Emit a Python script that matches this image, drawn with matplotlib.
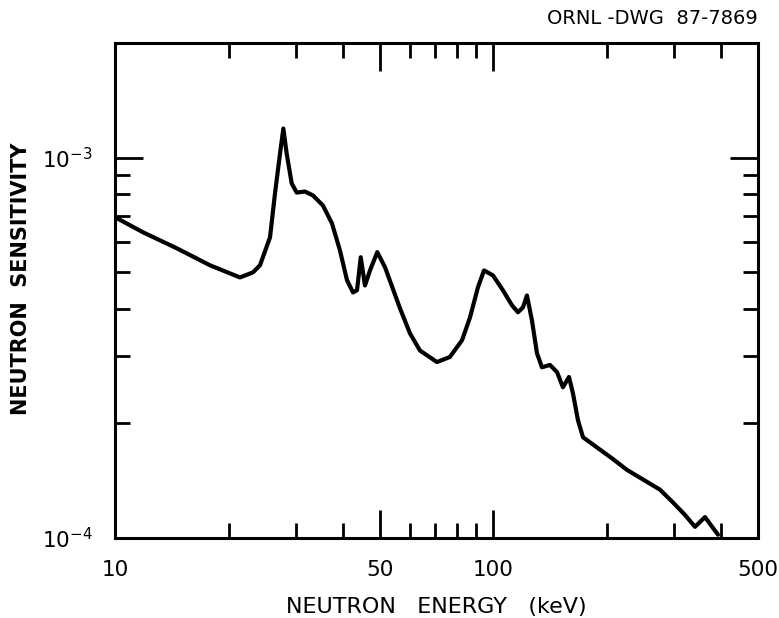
import numpy as np
import matplotlib
matplotlib.use('Agg')
import matplotlib.pyplot as plt
from matplotlib.ticker import NullFormatter

#%% Data (energy in keV, sensitivity)

energy = [10.0, 11.86, 14.58, 17.82, 21.39, 23.15, 24.16, 25.68, 26.47, 27.29,
          27.85, 28.42, 29.30, 30.2, 31.77, 33.35, 35.44, 37.44, 39.30, 41.02,
          42.55, 43.6, 44.6, 45.76, 47.18, 49.32, 51.69, 56.6, 60.17, 63.95,
          70.9, 76.7, 82.6, 86.7, 91.0, 94.4, 99.7, 105.9, 111.9, 116.1,
          119.7, 122.6, 126.4, 130.3, 134.3, 141.0, 147.2, 152.6, 158.3, 162.2,
          167.2, 172.4, 187.7, 205.6, 225.3, 275.4, 298.1, 320.6, 340.8, 362.2,
          392.0]

sensitivity = [6.97e-4, 6.36e-4, 5.77e-4, 5.21e-4, 4.84e-4, 4.99e-4, 5.21e-4, 6.17e-4, 8.05e-4, 1.024e-3,
               1.192e-3, 1.024e-3, 8.55e-4, 8.09e-4, 8.14e-4, 7.95e-4, 7.48e-4, 6.71e-4, 5.70e-4, 4.76e-4,
               4.42e-4, 4.48e-4, 5.47e-4, 4.61e-4, 5.05e-4, 5.64e-4, 5.15e-4, 4.02e-4, 3.45e-4, 3.11e-4,
               2.90e-4, 2.99e-4, 3.31e-4, 3.80e-4, 4.56e-4, 5.05e-4, 4.90e-4, 4.48e-4, 4.09e-4, 3.92e-4,
               4.04e-4, 4.34e-4, 3.73e-4, 3.06e-4, 2.81e-4, 2.85e-4, 2.73e-4, 2.49e-4, 2.65e-4, 2.40e-4,
               2.04e-4, 1.84e-4, 1.73e-4, 1.62e-4, 1.51e-4, 1.34e-4, 1.24e-4, 1.15e-4, 1.07e-4, 1.135e-4,
               1.02e-4]

x_major         = [10, 50, 100, 500]
x_major_labels  = ['10', '50', '100', '500']
x_minor         = [20, 30, 40, 60, 70, 80, 90, 200, 300, 400]

y_major         = [1e-4, 1e-3]
y_major_labels  = [r'$10^{-4}$', r'$10^{-3}$']
y_minor         = [2e-4, 3e-4, 4e-4, 5e-4, 6e-4, 7e-4, 8e-4, 9e-4]

#%% Plot

plt.rcParams['font.family'] = ['DejaVu Sans']
plt.rcParams['mathtext.fontset'] = 'dejavusans'

fig = plt.figure(figsize=(7.79, 6.18), dpi=100)
ax = fig.add_axes([115/779, 1 - 538/618, (758 - 115)/779, (538 - 43)/618])

ax.plot(energy, sensitivity, color='black', lw=3.0,
        solid_joinstyle='round', solid_capstyle='round')

ax.set_xscale('log')
ax.set_yscale('log')
ax.set_xlim(10, 500)
ax.set_ylim(1e-4, 2e-3)

ax.set_xticks(x_major)
ax.set_xticklabels(x_major_labels)
ax.set_xticks(x_minor, minor=True)
ax.xaxis.set_minor_formatter(NullFormatter())

ax.set_yticks(y_major)
ax.set_yticklabels(y_major_labels)
ax.set_yticks(y_minor, minor=True)
ax.yaxis.set_minor_formatter(NullFormatter())

ax.tick_params(which='both', direction='in', top=True, right=True,
               width=2.0, labelsize=15.5, colors='black')
ax.tick_params(which='major', length=20, pad=16)
ax.tick_params(which='minor', length=11)

for s in ax.spines.values():
    s.set_linewidth(2.2)

ax.set_xlabel('NEUTRON   ENERGY   (keV)', fontsize=16, labelpad=12)
ax.set_ylabel('NEUTRON  SENSITIVITY', fontsize=15, fontweight='bold')
ax.yaxis.set_label_coords(-0.131, 0.523)

fig.text(758/779, 1 - 18/618, 'ORNL -DWG  87-7869', ha='right', va='center', fontsize=14)

plt.savefig('out.png', dpi=100)
